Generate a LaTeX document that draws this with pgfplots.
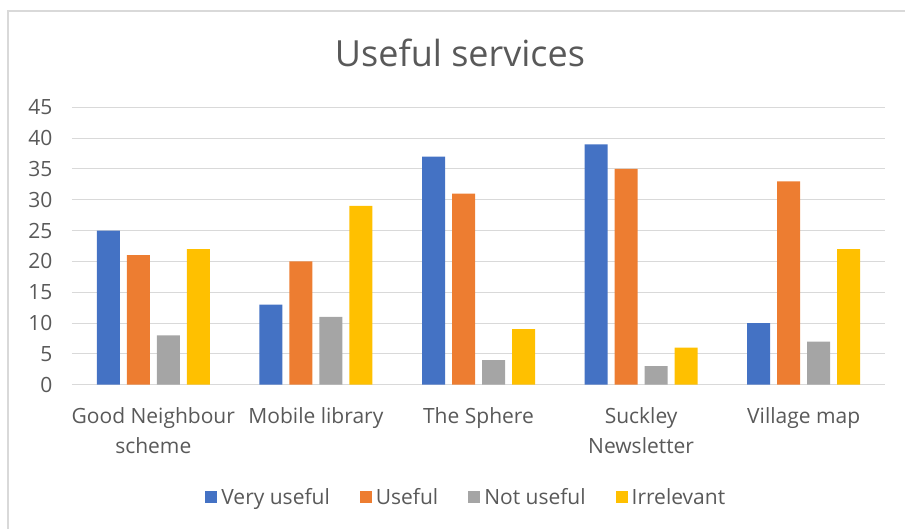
\documentclass[border=0pt]{standalone}
\usepackage{fontspec}
\setmainfont{Open Sans}
\usepackage{pgfplots}
\pgfplotsset{compat=1.18}
\definecolor{cblue}{HTML}{4472C4}
\definecolor{corange}{HTML}{ED7D31}
\definecolor{cgray}{HTML}{A5A5A5}
\definecolor{cgold}{HTML}{FFC000}
\definecolor{txt}{HTML}{595959}
\definecolor{gridc}{HTML}{D9D9D9}

\begin{document}
\begin{tikzpicture}[x=1pt,y=1pt]
\useasboundingbox (0,0) rectangle (905,528);
\draw[gridc, line width=1.5pt] (8,-20) rectangle (930,517);
\node[txt, font=\fontsize{36}{40}\selectfont] at (460,475) {Useful services};
\begin{axis}[
    at={(72pt,143.3pt)}, anchor=south west,
    scale only axis, width=813pt, height=277.4pt,
    ybar=7pt, bar width=23pt,
    xmin=-0.5, xmax=4.5, ymin=0, ymax=45,
    ytick={0,5,...,45},
    xtick={0,1,2,3,4},
    xticklabels={Good Neighbour\\scheme, Mobile library, The Sphere, Suckley\\Newsletter, Village map},
    xticklabel style={align=center, font=\fontsize{21}{30}\selectfont, text=txt, yshift=-19pt},
    yticklabel style={font=\fontsize{21}{25}\selectfont, text=txt, xshift=-16pt},
    /pgf/number format/assume math mode=true,
    major tick length=0pt,
    ymajorgrids, grid style={gridc, line width=1pt},
    axis y line*=left,
    axis x line*=bottom,
    y axis line style={draw=none},
    x axis line style={gridc, line width=1.5pt, -},
    legend columns=4,
    legend style={at={(0.485,-0.405)}, anchor=center, draw=none, fill=none,
        font=\fontsize{21}{25}\selectfont, text=txt,
        /tikz/every odd column/.append style={column sep=2pt},
        /tikz/every even column/.append style={column sep=28pt}},
    legend image code/.code={\fill[#1] (0pt,-6pt) rectangle (12pt,6pt);},
]
\addplot[fill=cblue, draw=none] coordinates {(0,25) (1,13) (2,37) (3,39) (4,10)};
\addlegendentry{Very useful}
\addplot[fill=corange, draw=none] coordinates {(0,21) (1,20) (2,31) (3,35) (4,33)};
\addlegendentry{Useful}
\addplot[fill=cgray, draw=none] coordinates {(0,8) (1,11) (2,4) (3,3) (4,7)};
\addlegendentry{Not useful}
\addplot[fill=cgold, draw=none] coordinates {(0,22) (1,29) (2,9) (3,6) (4,22)};
\addlegendentry{Irrelevant}
\end{axis}
\end{tikzpicture}
\end{document}
